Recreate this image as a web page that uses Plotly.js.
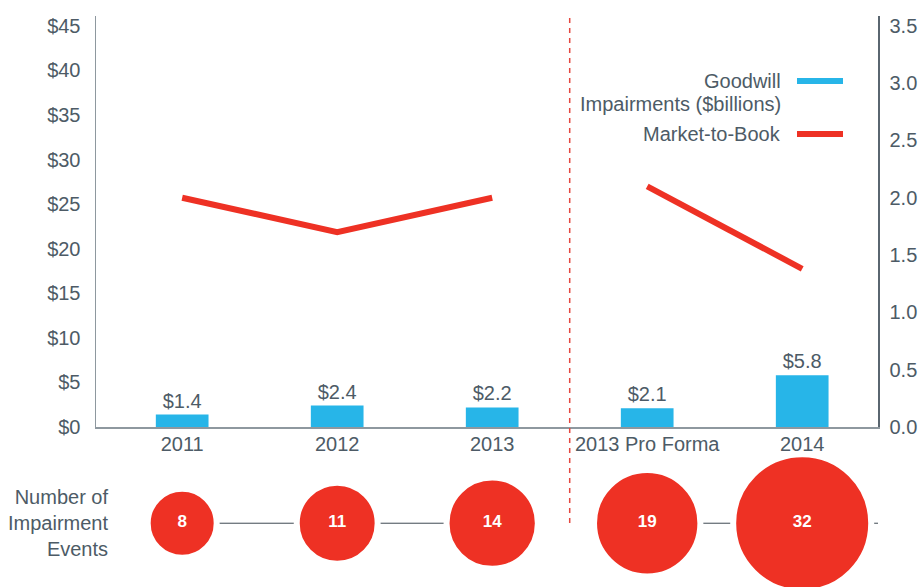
<!DOCTYPE html>
<html>
<head>
<meta charset="utf-8">
<script src="https://cdn.plot.ly/plotly-3.0.1.min.js"></script>
<style>
  html, body { margin: 0; padding: 0; background: #fff; }
  #chart { width: 918px; height: 587px; }
</style>
</head>
<body>
<div id="chart"></div>
<script>
const years = ['2011', '2012', '2013', '2013 Pro Forma', '2014'];
const goodwill = [1.4, 2.4, 2.2, 2.1, 5.8];
const marketToBook = [2.0, 1.7, 2.0, 2.1, 1.38];
const events = [8, 11, 14, 19, 32];

const red = '#ee3124';
const blue = '#27b5e8';
const ink = '#4d5b66';
const font = 'Liberation Sans, Arial, sans-serif';

function drawChart() {
  const bars = {
    type: 'bar',
    x: years,
    y: goodwill,
    width: 0.34,
    marker: { color: blue },
    texttemplate: '$%{y:.1f}',
    textposition: 'outside',
    textfont: { family: font, size: 20, color: ink },
    cliponaxis: false,
    hoverinfo: 'skip',
    showlegend: false
  };

  // two segments, the line breaks at the pro forma divider
  const mtbBefore = {
    type: 'scatter', mode: 'lines',
    x: years.slice(0, 3), y: marketToBook.slice(0, 3),
    yaxis: 'y2',
    line: { color: red, width: 6 },
    hoverinfo: 'skip', showlegend: false
  };
  const mtbAfter = {
    type: 'scatter', mode: 'lines',
    x: years.slice(3), y: marketToBook.slice(3),
    yaxis: 'y2',
    line: { color: red, width: 6 },
    hoverinfo: 'skip', showlegend: false
  };

  const bubbles = {
    type: 'scatter', mode: 'markers+text',
    x: years,
    y: events.map(() => 0.4),
    yaxis: 'y3',
    text: events.map(String),
    textposition: 'middle center',
    textfont: { family: 'Liberation Sans Narrow, Liberation Sans, sans-serif', size: 17, color: '#fff', weight: 'bold' },
    marker: {
      size: events, sizemode: 'area', sizeref: 0.00336,
      color: red, opacity: 1,
      line: { color: '#fff', width: 6 }
    },
    cliponaxis: false,
    hoverinfo: 'skip', showlegend: false
  };

  const px = v => (v - 96) / 782;
  const py = v => (587 - v) / 571;

  const layout = {
    width: 918, height: 587,
    margin: { l: 96, r: 40, t: 16, b: 0 },
    paper_bgcolor: '#fff', plot_bgcolor: 'rgba(0,0,0,0)',
    font: { family: font, size: 20, color: ink },
    showlegend: false,
    xaxis: {
      type: 'category',
      range: [-0.556, 4.489],
      showgrid: false, zeroline: false,
      showline: true, linecolor: '#8e989f', linewidth: 1.5,
      ticks: '', ticklabelstandoff: -2,
      tickfont: { size: 20, color: ink },
      anchor: 'y', fixedrange: true
    },
    yaxis: {
      domain: [py(427), 1],
      range: [0, 46.1],
      dtick: 5, tickprefix: '$',
      showgrid: false, zeroline: false,
      showline: true, linecolor: '#8e989f', linewidth: 1.5,
      ticks: '', ticklabelstandoff: 10,
      tickfont: { size: 20, color: ink },
      fixedrange: true
    },
    yaxis2: {
      overlaying: 'y', side: 'right', anchor: 'x',
      range: [0, 46.1 * 3.5 / 45],
      dtick: 0.5, tickformat: '.1f',
      showgrid: false, zeroline: false,
      showline: true, linecolor: '#5a6670', linewidth: 1.5,
      ticks: '', ticklabelstandoff: 6,
      tickfont: { size: 20, color: ink },
      fixedrange: true
    },
    yaxis3: {
      domain: [0, py(427) - 0.001],
      range: [0, 1],
      anchor: 'x',
      visible: false, fixedrange: true
    },
    shapes: [
      // pro forma divider
      { type: 'line', xref: 'x', yref: 'paper', x0: 2.5, x1: 2.5, y0: py(523), y1: 1,
        line: { color: '#e5483f', width: 1.5, dash: '5px,5px' } },
      // connectors between the event bubbles
      { type: 'line', xref: 'x', yref: 'y3', x0: 0, x1: 2, y0: 0.4, y1: 0.4,
        layer: 'below', line: { color: '#3f4a52', width: 1 } },
      { type: 'line', xref: 'x', yref: 'y3', x0: 3, x1: 4.489, y0: 0.4, y1: 0.4,
        layer: 'below', line: { color: '#3f4a52', width: 1 } },
      // legend swatches
      { type: 'line', xref: 'paper', yref: 'paper', x0: px(797), x1: px(843), y0: py(81), y1: py(81),
        line: { color: blue, width: 6 } },
      { type: 'line', xref: 'paper', yref: 'paper', x0: px(797), x1: px(843), y0: py(134), y1: py(134),
        line: { color: red, width: 6 } }
    ],
    annotations: [
      { xref: 'paper', yref: 'paper', x: px(783), y: py(81), xanchor: 'right', yanchor: 'middle',
        text: 'Goodwill', showarrow: false, font: { size: 20, color: ink } },
      { xref: 'paper', yref: 'paper', x: px(783), y: py(104), xanchor: 'right', yanchor: 'middle',
        text: 'Impairments ($billions)', showarrow: false, font: { size: 20, color: ink } },
      { xref: 'paper', yref: 'paper', x: px(783), y: py(134), xanchor: 'right', yanchor: 'middle',
        text: 'Market-to-Book', showarrow: false, font: { size: 20, color: ink } },
      { xref: 'paper', yref: 'paper', x: px(110), y: py(523), xanchor: 'right', yanchor: 'middle',
        align: 'right', text: 'Number of<br>Impairment<br>Events', showarrow: false,
        font: { size: 20, color: ink } }
    ]
  };

  Plotly.newPlot('chart', [bars, mtbBefore, mtbAfter, bubbles], layout, { displayModeBar: false, staticPlot: true });
}

if (document.readyState === 'loading') {
  document.addEventListener('DOMContentLoaded', drawChart);
} else {
  drawChart();
}
</script>
</body>
</html>
